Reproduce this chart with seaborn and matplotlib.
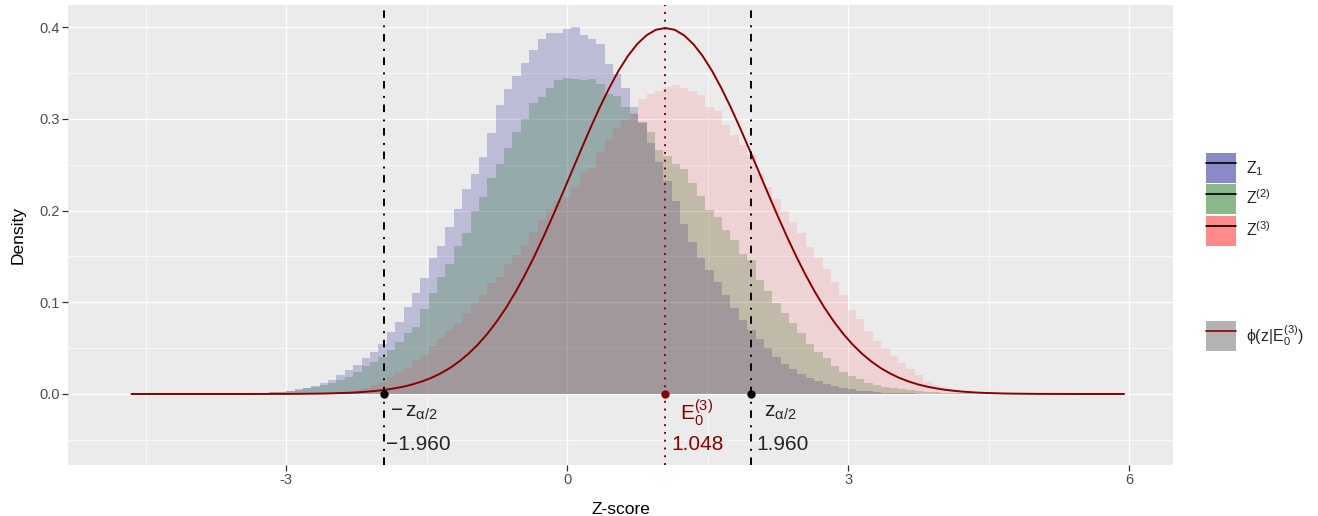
import numpy as np
import pandas as pd
import matplotlib
matplotlib.use("Agg")
import matplotlib.pyplot as plt
import seaborn as sns
from matplotlib.patches import Patch
from matplotlib.lines import Line2D

# ---------------- data ----------------
bin_start = -3.716
bin_width = 0.0895

z1_density = [0.0001, 0.0002, 0.0003, 0.0005, 0.0008, 0.0011, 0.0018, 0.0025, 0.0036, 0.005,
              0.0069, 0.0087, 0.0116, 0.015, 0.021, 0.026, 0.032, 0.039, 0.046, 0.055,
              0.068, 0.079, 0.095, 0.110, 0.126, 0.148, 0.161, 0.182, 0.202, 0.223,
              0.240, 0.258, 0.285, 0.315, 0.332, 0.347, 0.361, 0.375, 0.387, 0.394,
              0.393, 0.398, 0.400, 0.391, 0.387, 0.381, 0.360, 0.349, 0.333, 0.313,
              0.296, 0.274, 0.253, 0.232, 0.210, 0.185, 0.166, 0.148, 0.135, 0.122,
              0.108, 0.094, 0.081, 0.070, 0.060, 0.050, 0.040, 0.033, 0.027, 0.022,
              0.017, 0.014, 0.011, 0.0085, 0.0065, 0.005, 0.0038, 0.0029, 0.0022, 0.0016,
              0.0012, 0.0009, 0.0006, 0.0004, 0.0003, 0.0002, 0.0001, 0.0, 0.0, 0.0,
              0.0, 0.0, 0.0, 0.0, 0.0, 0.0]

z2_density = [0.0002, 0.0003, 0.0004, 0.0006, 0.0009, 0.0013, 0.0018, 0.0025, 0.0033, 0.0044,
              0.006, 0.008, 0.010, 0.012, 0.015, 0.019, 0.024, 0.030, 0.035, 0.040,
              0.048, 0.057, 0.066, 0.073, 0.093, 0.110, 0.128, 0.142, 0.161, 0.175,
              0.200, 0.215, 0.235, 0.251, 0.268, 0.286, 0.300, 0.317, 0.324, 0.333,
              0.342, 0.344, 0.343, 0.342, 0.343, 0.338, 0.327, 0.325, 0.313, 0.305,
              0.295, 0.286, 0.266, 0.259, 0.251, 0.245, 0.230, 0.216, 0.201, 0.193,
              0.179, 0.168, 0.153, 0.146, 0.124, 0.112, 0.099, 0.088, 0.077, 0.066,
              0.055, 0.046, 0.039, 0.030, 0.024, 0.0196, 0.016, 0.0123, 0.0098, 0.008,
              0.0065, 0.005, 0.004, 0.003, 0.0024, 0.0018, 0.0013, 0.001, 0.0008, 0.0006,
              0.0004, 0.0003, 0.0002, 0.0001, 0.0001, 0.0001]

z3_density = [0.0001, 0.0001, 0.0001, 0.0001, 0.0002, 0.0002, 0.0002, 0.0003, 0.0003, 0.0004,
              0.0004, 0.0007, 0.001, 0.0015, 0.0022, 0.0033, 0.0044, 0.006, 0.0098, 0.013,
              0.019, 0.024, 0.028, 0.037, 0.0425, 0.052, 0.061, 0.070, 0.077, 0.088,
              0.099, 0.108, 0.121, 0.128, 0.142, 0.151, 0.162, 0.177, 0.190, 0.202,
              0.210, 0.215, 0.226, 0.242, 0.246, 0.264, 0.278, 0.290, 0.299, 0.306,
              0.322, 0.327, 0.330, 0.335, 0.337, 0.333, 0.330, 0.326, 0.313, 0.308,
              0.293, 0.282, 0.271, 0.260, 0.240, 0.226, 0.213, 0.200, 0.188, 0.175,
              0.160, 0.148, 0.136, 0.122, 0.108, 0.092, 0.082, 0.069, 0.058, 0.050,
              0.041, 0.034, 0.027, 0.021, 0.0134, 0.0098, 0.0076, 0.0054, 0.0036, 0.0022,
              0.0014, 0.001, 0.0006, 0.0004, 0.0002, 0.0001]

E0 = 1.048
z_crit = 1.960
curve_step = 0.1
curve_density = [0, 0, 0, 0, 0, 0, 0, 0, 0, 0,
                 0, 0, 0, 0.00002, 0.00004, 0.00006, 0.00009,
                 0.0001, 0.0002, 0.0003, 0.0004, 0.0006, 0.0009, 0.0012, 0.0017, 0.0024, 0.0033,
                 0.0044, 0.0060, 0.0079, 0.0104, 0.0136, 0.0175, 0.0224, 0.0283, 0.0355, 0.0440,
                 0.0540, 0.0656, 0.0790, 0.0940, 0.1109, 0.1295, 0.1497, 0.1714, 0.1942, 0.2179,
                 0.2420, 0.2661, 0.2897, 0.3123, 0.3332, 0.3521, 0.3683, 0.3814, 0.3910, 0.3970,
                 0.3989,
                 0.3970, 0.3910, 0.3814, 0.3683, 0.3521, 0.3332, 0.3123, 0.2897, 0.2661, 0.2420,
                 0.2179, 0.1942, 0.1714, 0.1497, 0.1295, 0.1109, 0.0940, 0.0790, 0.0656, 0.0540,
                 0.0440, 0.0355, 0.0283, 0.0224, 0.0175, 0.0136, 0.0104, 0.0079, 0.0060, 0.0044,
                 0.0033, 0.0024, 0.0017, 0.0012, 0.0009, 0.0006, 0.0004, 0.0003, 0.0002, 0.0001,
                 0.00009, 0.00006, 0.00004, 0.00002, 0, 0, 0, 0, 0]

series_labels = [r"$\mathrm{Z}_1$", r"$\mathrm{Z}^{(2)}$", r"$\mathrm{Z}^{(3)}$"]
series_colors = ["#00008B", "#006400", "#FF0000"]
series_alpha = [0.2, 0.2, 0.1]
curve_label = r"$\mathrm{\phi}(\mathrm{z}|\mathrm{E}_0^{(3)})$"

# ---------------- style ----------------
sns.set_theme(style="darkgrid")
plt.rcParams["font.family"] = ["Liberation Sans", "DejaVu Sans"]
plt.rcParams["mathtext.fontset"] = "custom"
plt.rcParams["mathtext.rm"] = "Liberation Sans"
plt.rcParams["mathtext.it"] = "Liberation Sans:italic"
plt.rcParams["mathtext.bf"] = "Liberation Sans:bold"

W, H = 1318, 516
fig = plt.figure(figsize=(W / 100, H / 100), dpi=100, facecolor="white")
ax = fig.add_axes([68 / W, 1 - 465 / H, (1173 - 68) / W, (465 - 5) / H])
ax.set_facecolor("#EBEBEB")

n_bins = len(z1_density)
edges = bin_start + bin_width * np.arange(n_bins + 1)
centers = (edges[:-1] + edges[1:]) / 2
edge_list = [float(e) for e in edges]

for dens, col, a in zip([z1_density, z2_density, z3_density], series_colors, series_alpha):
    df = pd.DataFrame({"z": centers, "density": dens})
    sns.histplot(data=df, x="z", weights="density", bins=edge_list, stat="count",
                 element="step", fill=True, color=col, alpha=a, linewidth=0, ax=ax)

curve_x = E0 + curve_step * np.arange(-57, len(curve_density) - 57)
sns.lineplot(x=curve_x, y=curve_density, color="#8B0000", linewidth=1.4, ax=ax,
             estimator=None, sort=False)

# reference lines
for zc in (-z_crit, z_crit):
    ax.axvline(zc, color="black", linewidth=1.4, linestyle=(0, (3.9, 3.4, 1, 3.8)), zorder=4)
ax.axvline(E0, color="#8B0000", linewidth=1.4, linestyle=(0, (1, 3)), zorder=4)
ax.scatter([-z_crit, z_crit], [0, 0], s=36, color="black", zorder=5, linewidths=0)
ax.scatter([E0], [0], s=36, color="#8B0000", zorder=5, linewidths=0)

# annotations
fs = 15
ax.text(-z_crit + 0.07, -0.0205, r"$-\,\mathrm{z}_{\mathrm{\alpha}/2}$", ha="left", va="center",
        fontsize=fs)
ax.text(-z_crit + 0.03, -0.0555, "\u22121.960", ha="left", va="center", fontsize=fs)
ax.text(z_crit + 0.14, -0.0205, r"$\mathrm{z}_{\mathrm{\alpha}/2}$", ha="left", va="center",
        fontsize=fs)
ax.text(z_crit + 0.06, -0.0555, "1.960", ha="left", va="center", fontsize=fs)
ax.text(E0 + 0.16, -0.0205, r"$\mathrm{E}_0^{(3)}$", ha="left", va="center", fontsize=fs,
        color="#8B0000")
ax.text(E0 + 0.06, -0.0555, "1.048", ha="left", va="center", fontsize=fs, color="#8B0000")

# axes
ax.set_xlim(-5.33, 6.47)
ax.set_ylim(-0.0774, 0.424)
ax.set_xticks([-3, 0, 3, 6])
ax.set_xticklabels(["-3", "0", "3", "6"])
ax.set_xticks([-4.5, -1.5, 1.5, 4.5], minor=True)
ax.set_yticks([0.0, 0.1, 0.2, 0.3, 0.4])
ax.set_yticklabels(["0.0", "0.1", "0.2", "0.3", "0.4"])
ax.set_yticks([-0.05, 0.05, 0.15, 0.25, 0.35], minor=True)
ax.grid(which="major", color="white", linewidth=1.0)
ax.grid(which="minor", color="white", linewidth=0.5)
ax.set_axisbelow(True)
for s in ax.spines.values():
    s.set_visible(False)
ax.tick_params(axis="both", which="major", length=4.0, width=0.9, color="#333333",
               labelcolor="#4D4D4D", labelsize=10.5, pad=1.8, bottom=True, left=True)
ax.tick_params(axis="both", which="minor", length=0)
ax.set_xlabel("Z-score", fontsize=12.5, color="black", labelpad=10.5)
ax.set_ylabel("Density", fontsize=12.5, color="black", labelpad=10)

# legends
lfs = 11.5
leg_kw = dict(loc="upper left", frameon=False, fontsize=lfs, handlelength=1.875,
              handleheight=2.51, labelspacing=0.08, handletextpad=0.6, borderpad=0.2)
handles1 = [(Patch(facecolor=c, alpha=0.46, linewidth=0),
             Line2D([], [], color="black", linewidth=1.2)) for c in series_colors]
leg1 = fig.legend(handles1, series_labels, bbox_to_anchor=(1195 / W, 1 - 142 / H), **leg_kw)
handles2 = [(Patch(facecolor="#B3B3B3", linewidth=0),
             Line2D([], [], color="#8B0000", linewidth=1.2))]
leg2 = fig.legend(handles2, [curve_label], bbox_to_anchor=(1195 / W, 1 - 310 / H), **leg_kw)

fig.savefig("out.png", dpi=100, facecolor="white")
